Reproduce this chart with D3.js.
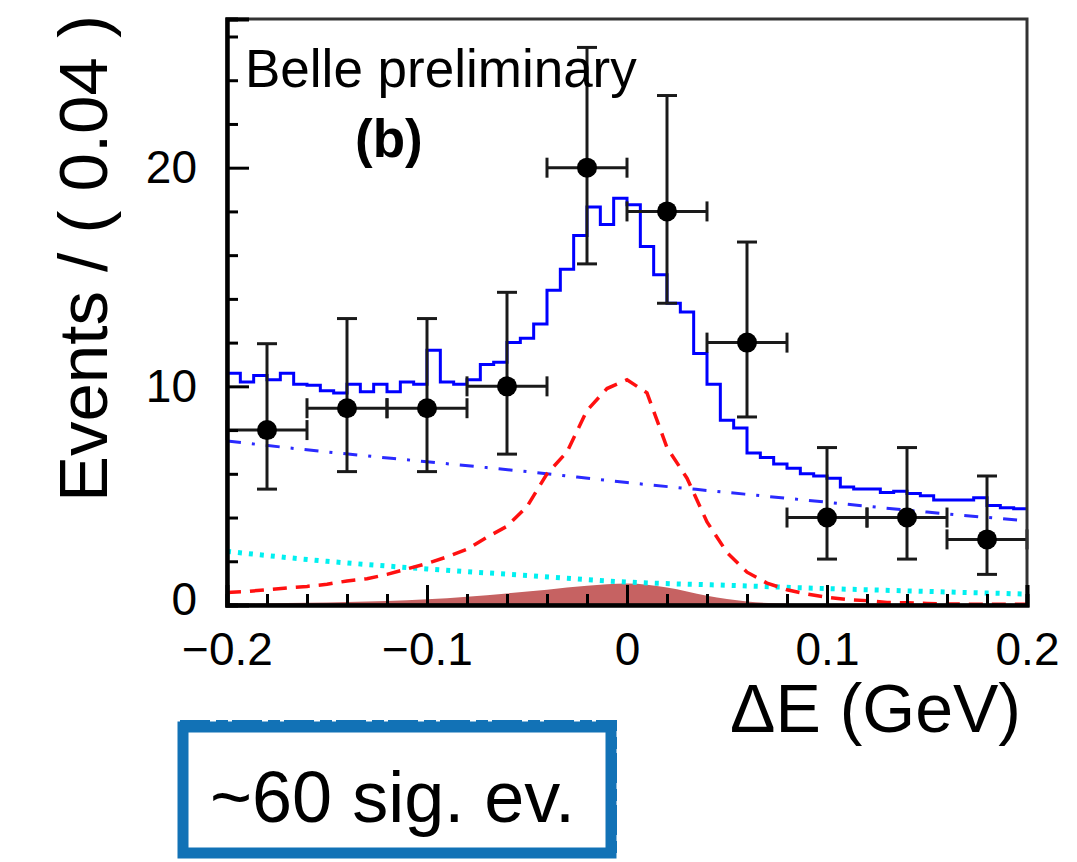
<!DOCTYPE html>
<html>
<head>
<meta charset="utf-8">
<script src="https://cdn.jsdelivr.net/npm/d3@7"></script>
<style>
  body { margin: 0; background: #fff; }
  svg text { font-family: "Liberation Sans", Arial, Helvetica, sans-serif; fill: #000; }
</style>
</head>
<body>
<div id="chart-area"></div>
<script>
// data points: Delta E bin centres, counts and asymmetric error limits
var dataX = [-0.18, -0.14, -0.10, -0.06, -0.02, 0.02, 0.06, 0.10, 0.14, 0.18];
var dataY = [8, 9, 9, 10, 20, 18, 12, 4, 4, 3];
var dataLo = [5.3, 6.1, 6.1, 6.9, 15.6, 13.8, 8.6, 2.1, 2.1, 1.4];
var dataHi = [11.95, 13.1, 13.1, 14.3, 25.5, 23.3, 16.6, 7.2, 7.2, 5.9];
var halfBin = 0.02;

// total fit (blue solid histogram), 60 bins from -0.2 to 0.2
var totalVals = [
  10.6, 10.2, 10.5, 10.3, 10.6, 10.1, 10.05, 9.8, 9.7, 10.1,
  9.75, 10.1, 9.75, 10.2, 10.1, 11.65, 10.2, 10.1, 10.3, 11.0,
  11.1, 12.0, 12.2, 12.85, 14.4, 15.35, 16.9, 18.2, 17.4, 18.6,
  18.3, 16.4, 15.1, 13.8, 13.4, 11.5, 10.1, 8.45, 8.1, 6.95,
  6.75, 6.45, 6.25, 6.0, 5.9, 5.8, 5.4, 5.3, 5.3, 5.15,
  5.2, 5.1, 5.0, 4.8, 4.8, 4.8, 4.9, 4.55, 4.45, 4.4
];

// signal (red dashed), sampled every 0.01
var sigX = [-0.20, -0.19, -0.18, -0.17, -0.16, -0.15, -0.14, -0.13, -0.12, -0.11,
  -0.10, -0.09, -0.08, -0.07, -0.06, -0.05, -0.04, -0.03, -0.02, -0.01,
  0.00, 0.01, 0.02, 0.03, 0.04, 0.05, 0.06, 0.07, 0.08, 0.09,
  0.10, 0.11, 0.12, 0.13, 0.14, 0.15, 0.16, 0.17, 0.18, 0.19, 0.20];
var sigY = [0.57, 0.62, 0.7, 0.78, 0.85, 0.95, 1.1, 1.2, 1.4, 1.65,
  1.9, 2.2, 2.55, 3.1, 3.6, 4.5, 6.0, 7.0, 8.9, 9.9,
  10.3, 9.7, 7.2, 5.8, 3.8, 2.4, 1.5, 1.0, 0.7, 0.5,
  0.35, 0.25, 0.2, 0.12, 0.1, 0.07, 0.05, 0.04, 0.03, 0.03, 0.03];

// continuum (blue dash-dot) and other backgrounds (cyan dotted)
var bkgX = [-0.20, -0.15, -0.10, -0.05, 0.00, 0.05, 0.10, 0.15, 0.20];
var contY = [7.5, 7.0, 6.55, 6.1, 5.6, 5.15, 4.7, 4.25, 3.85];
var otherY = [2.45, 2.0, 1.65, 1.35, 1.05, 0.9, 0.75, 0.62, 0.5];

// peaking background (filled)
var peakX = [-0.20, -0.18, -0.16, -0.14, -0.12, -0.10, -0.08, -0.06, -0.04, -0.02,
  0.00, 0.02, 0.04, 0.06, 0.08, 0.10, 0.12, 0.14, 0.16, 0.18, 0.20];
var peakY = [0.05, 0.07, 0.1, 0.14, 0.18, 0.26, 0.38, 0.53, 0.7, 0.88,
  0.98, 0.8, 0.42, 0.16, 0.06, 0.03, 0.02, 0.01, 0.01, 0, 0];

var xMajor = [-0.2, -0.1, 0, 0.1, 0.2];
var xTickLabels = ["\u22120.2", "\u22120.1", "0", "0.1", "0.2"];
var xMinor = [-0.18, -0.16, -0.14, -0.12, -0.08, -0.06, -0.04, -0.02,
  0.02, 0.04, 0.06, 0.08, 0.12, 0.14, 0.16, 0.18];
var yMajor = [0, 10, 20];
var yTickLabels = ["0", "10", "20"];
var yMinor = [2, 4, 6, 8, 12, 14, 16, 18, 22, 24, 26];

var margin = { left: 227, right: 50, top: 19, bottom: 257 },
    totalW = 1077, totalH = 862,
    width = totalW - margin.left - margin.right,
    height = totalH - margin.top - margin.bottom;

var svg = d3.select("#chart-area").append("svg")
    .attr("width", totalW)
    .attr("height", totalH);

svg.append("defs").append("clipPath")
    .attr("id", "plotclip")
    .append("rect")
    .attr("x", 0).attr("y", 0)
    .attr("width", width).attr("height", height);

var g = svg.append("g")
    .attr("transform", "translate(" + margin.left + "," + margin.top + ")");

var x = d3.scaleLinear().domain([-0.2, 0.2]).range([0, width]);
var y = d3.scaleLinear().domain([0, 26.8]).range([height, 0]);

var curves = g.append("g").attr("clip-path", "url(#plotclip)");

// peaking background area
curves.append("path")
    .datum(peakX.map(function (d, i) { return [d, peakY[i]]; }))
    .attr("fill", "#c66262")
    .attr("d", d3.area()
        .x(function (d) { return x(d[0]); })
        .y0(y(0))
        .y1(function (d) { return y(d[1]); })
        .curve(d3.curveMonotoneX));

// other background, cyan dots
curves.append("path")
    .datum(bkgX.map(function (d, i) { return [d, otherY[i]]; }))
    .attr("fill", "none")
    .attr("stroke", "#00f0f0")
    .attr("stroke-width", 5)
    .attr("stroke-dasharray", "4,7")
    .attr("d", d3.line()
        .x(function (d) { return x(d[0]); })
        .y(function (d) { return y(d[1]); })
        .curve(d3.curveMonotoneX));

// continuum, blue dash-dot
curves.append("path")
    .datum(bkgX.map(function (d, i) { return [d, contY[i]]; }))
    .attr("fill", "none")
    .attr("stroke", "#2a2aff")
    .attr("stroke-width", 3)
    .attr("stroke-dasharray", "14,11,3,11")
    .attr("d", d3.line()
        .x(function (d) { return x(d[0]); })
        .y(function (d) { return y(d[1]); })
        .curve(d3.curveMonotoneX));

// signal, red dashed
curves.append("path")
    .datum(sigX.map(function (d, i) { return [d, sigY[i]]; }))
    .attr("fill", "none")
    .attr("stroke", "#ff1010")
    .attr("stroke-width", 3.5)
    .attr("stroke-dasharray", "14,9")
    .attr("d", d3.line()
        .x(function (d) { return x(d[0]); })
        .y(function (d) { return y(d[1]); }));

// total fit as a step histogram
var binLo = -0.2, binW = 0.4 / totalVals.length;
var steps = totalVals.map(function (v, i) { return [binLo + i * binW, v]; });
steps.push([0.2, totalVals[totalVals.length - 1]]);
curves.append("path")
    .datum(steps)
    .attr("fill", "none")
    .attr("stroke", "#0000ff")
    .attr("stroke-width", 3)
    .attr("d", d3.line()
        .x(function (d) { return x(d[0]); })
        .y(function (d) { return y(d[1]); })
        .curve(d3.curveStepAfter));

// data points with error bars
var pts = g.append("g").attr("stroke", "#1a1a1a").attr("stroke-width", 3);
dataX.forEach(function (dx, i) {
    var px = x(dx), py = y(dataY[i]);
    var xl = x(Math.max(dx - halfBin, -0.2)), xr = x(Math.min(dx + halfBin, 0.2));
    pts.append("line").attr("x1", px).attr("x2", px)
        .attr("y1", y(dataLo[i])).attr("y2", y(dataHi[i]));
    pts.append("line").attr("x1", xl).attr("x2", xr).attr("y1", py).attr("y2", py);
    [dataLo[i], dataHi[i]].forEach(function (v) {
        pts.append("line").attr("x1", px - 10).attr("x2", px + 10)
            .attr("y1", y(v)).attr("y2", y(v));
    });
    [xl, xr].forEach(function (v) {
        pts.append("line").attr("x1", v).attr("x2", v)
            .attr("y1", py - 10).attr("y2", py + 10);
    });
    pts.append("circle").attr("cx", px).attr("cy", py).attr("r", 10)
        .attr("fill", "#000").attr("stroke", "none");
});

// frame
g.append("rect")
    .attr("x", 0).attr("y", 0)
    .attr("width", width).attr("height", height)
    .attr("fill", "none")
    .attr("stroke", "#333")
    .attr("stroke-width", 3);

// axes, ticks pointing inwards
var xAxisMajor = d3.axisBottom(x).tickValues(xMajor)
    .tickSize(-20).tickPadding(27)
    .tickFormat(function (d, i) { return xTickLabels[i]; });
var xAxisMinor = d3.axisBottom(x).tickValues(xMinor).tickSize(-11).tickFormat("");
var yAxisMajor = d3.axisLeft(y).tickValues(yMajor)
    .tickSize(-22).tickPadding(30)
    .tickFormat(function (d, i) { return yTickLabels[i]; });
var yAxisMinor = d3.axisLeft(y).tickValues(yMinor).tickSize(-11).tickFormat("");

function styleAxis(sel) {
    sel.select(".domain").attr("stroke", "#000").attr("stroke-width", 4);
    sel.selectAll(".tick line").attr("stroke", "#000").attr("stroke-width", 3);
    sel.selectAll(".tick text").attr("font-size", 46)
        .attr("font-family", "'Liberation Sans', Arial, Helvetica, sans-serif");
}

g.append("g").attr("transform", "translate(0," + height + ")").call(xAxisMinor).call(styleAxis);
g.append("g").attr("transform", "translate(0," + height + ")").call(xAxisMajor).call(styleAxis);
g.append("g").call(yAxisMinor).call(styleAxis);
g.append("g").call(yAxisMajor).call(styleAxis);

// y label "0" sits a little higher so it clears the x labels
g.selectAll(".tick text").filter(function (d) { return d === 0 && this.getAttribute("x") !== null && +this.getAttribute("x") < 0; })
    .attr("dy", "0.2em");

// titles
svg.append("text")
    .attr("transform", "translate(107,15) rotate(-90)")
    .attr("text-anchor", "end")
    .attr("font-size", 69)
    .text("Events / ( 0.04 )");

svg.append("text")
    .attr("x", 1021).attr("y", 732)
    .attr("text-anchor", "end")
    .attr("font-size", 68)
    .text("\u0394E (GeV)");

svg.append("text")
    .attr("x", 245).attr("y", 87)
    .attr("font-size", 53)
    .text("Belle preliminary");

svg.append("text")
    .attr("x", 355).attr("y", 157)
    .attr("font-size", 53)
    .attr("font-weight", "bold")
    .text("(b)");

// annotation box
var box = svg.append("g");
box.append("rect")
    .attr("x", 183).attr("y", 727)
    .attr("width", 428).attr("height", 126)
    .attr("fill", "#fff")
    .attr("stroke", "#1272b6")
    .attr("stroke-width", 11);
box.append("rect")
    .attr("x", 180).attr("y", 721)
    .attr("width", 436).attr("height", 136)
    .attr("fill", "none")
    .attr("stroke", "#1272b6")
    .attr("stroke-width", 2)
    .attr("stroke-dasharray", "30,6,12,4");
box.append("text")
    .attr("x", 210).attr("y", 822)
    .attr("font-size", 72)
    .text("~60 sig. ev.");
</script>
</body>
</html>
